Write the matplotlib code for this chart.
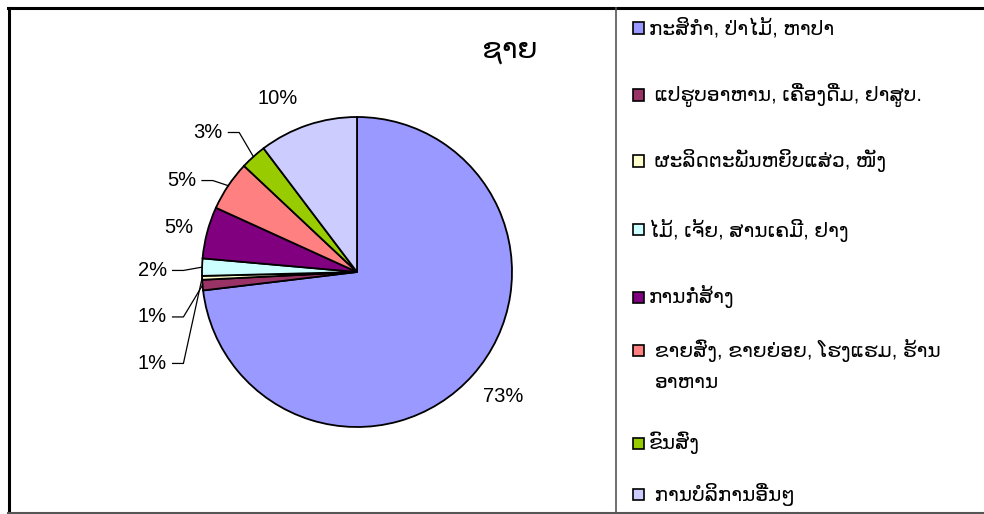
import matplotlib
matplotlib.use('Agg')
import numpy as np
import matplotlib.pyplot as plt
from matplotlib.patches import Rectangle
from matplotlib.lines import Line2D

plt.rcParams['font.family'] = ['Liberation Sans', 'DejaVu Sans']

# Data
title = 'ຊາຍ'
categories = [
    'ກະສິກຳ, ປ່າໄມ້, ຫາປາ',
    ' ແປຮູບອາຫານ, ເຄື່ອງດື່ມ, ຢາສູບ.',
    ' ຜະລິດຕະພັນຫຍິບແສ່ວ, ໜັງ',
    'ໄມ້, ເຈ້ຍ, ສານເຄມີ, ຢາງ',
    'ການກໍ່ສ້າງ',
    ' ຂາຍສົ່ງ, ຂາຍຍ່ອຍ, ໂຮງແຮມ, ຮ້ານ\nອາຫານ',
    'ຂົນສົ່ງ',
    ' ການບໍລິການອື່ນໆ',
]
shares = [73.1, 1.1, 0.4, 1.8, 5.4, 5.2, 2.7, 10.3]
pct_labels = ['73%', '1%', '1%', '2%', '5%', '5%', '3%', '10%']
colors = ['#9999FF', '#993366', '#FFFFCC', '#CCFFFF', '#800080', '#FF8080', '#99CC00', '#CCCCFF']

W, H = 984, 514
fig = plt.figure(figsize=(W / 100, H / 100), dpi=100)

# pie axes, centre (357, 272) px, radius 155 px
cx, cy, r = 357, 272, 155
ax = fig.add_axes([(cx - r) / W, (H - cy - r) / H, 2 * r / W, 2 * r / H])
wedges, _ = ax.pie(shares, colors=colors, startangle=90, counterclock=False,
                   wedgeprops=dict(edgecolor='black', linewidth=1.3))
ax.set_xlim(-1, 1)
ax.set_ylim(-1, 1)
ax.set_aspect('auto')
ax.axis('off')

# label positions (data units) and whether a leader line is drawn
label_pos = [(0.94, -0.80), (-1.32, -0.29), (-1.32, -0.59), (-1.32, 0.01),
             (-1.15, 0.29), (-1.13, 0.59), (-0.96, 0.90), (-0.51, 1.12)]
leaders = [False, True, True, True, False, True, True, False]
for w, lab, (lx, ly), lead in zip(wedges, pct_labels, label_pos, leaders):
    ax.text(lx, ly, lab, ha='center', va='center', fontsize=14.5, clip_on=False)
    if lead:
        mid = np.deg2rad((w.theta1 + w.theta2) / 2)
        ex, ey = np.cos(mid), np.sin(mid)
        x0 = lx + 0.13
        x1 = x0 + 0.07
        ax.add_line(Line2D([x0, x1, ex * 1.0], [ly, ly, ey * 1.0], color='black',
                           linewidth=0.9, clip_on=False))

fig.text(510 / W, 1 - 50 / H, title, ha='center', va='center', fontsize=21)

# borders
fig.add_artist(Line2D([8 / W, 1], [1 - 7.5 / H] * 2, color='black', linewidth=2.2))
fig.add_artist(Line2D([8.5 / W] * 2, [0, 1 - 7.5 / H], color='black', linewidth=2.2))
fig.add_artist(Line2D([8 / W, 1], [1 - 513 / H] * 2, color='#555555', linewidth=1.5))
fig.add_artist(Line2D([615.5 / W] * 2, [1 - 513 / H, 1 - 7.5 / H], color='#555555', linewidth=1.2))

# legend
leg_y = [28, 95, 161, 230, 297, 350, 443, 494]
line_gap = 33
for cat, col, y in zip(categories, colors, leg_y):
    fig.add_artist(Rectangle((633 / W, 1 - (y + 5.5) / H), 11 / W, 11 / H,
                             facecolor=col, edgecolor='black', linewidth=1.2))
    for k, part in enumerate(cat.split('\n')):
        fig.text(649 / W if k == 0 else 655 / W, 1 - (y + k * line_gap) / H, part,
                 ha='left', va='center', fontsize=14.5)

fig.savefig('out.png', dpi=100)
